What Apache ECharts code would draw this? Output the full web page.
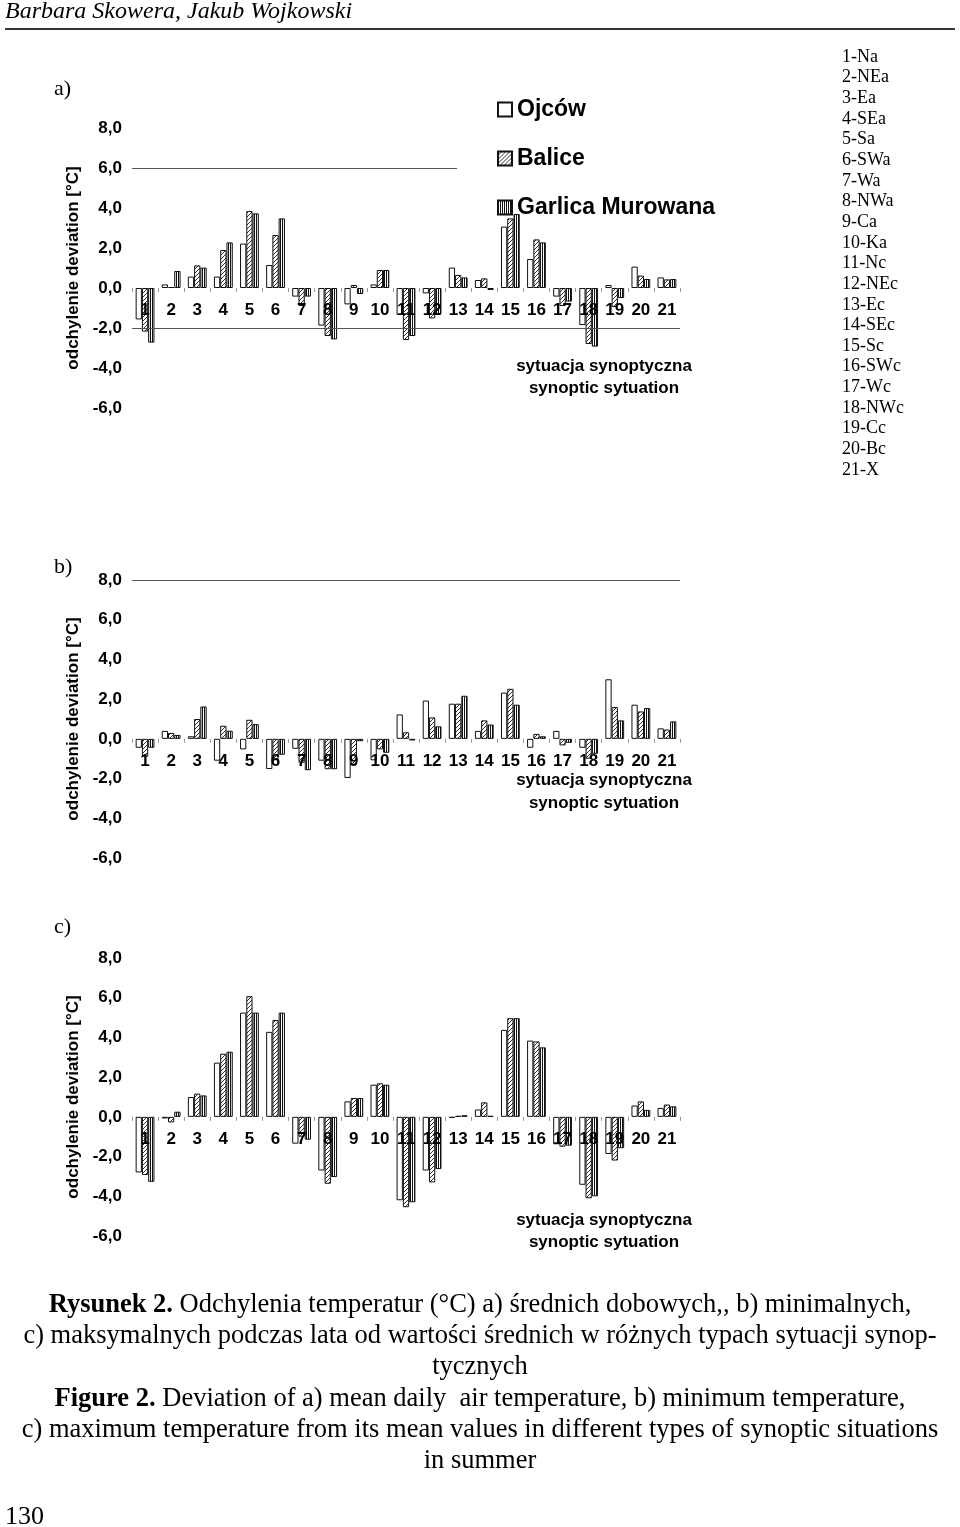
<!DOCTYPE html>
<html><head><meta charset="utf-8">
<script src="https://cdn.jsdelivr.net/npm/echarts@6/dist/echarts.min.js"></script>
<style>html,body{margin:0;padding:0;background:#fff}#c{width:960px;height:1527px}</style>
</head><body><div id="c"></div><script>
// ---------- data ----------
const categories = ['1','2','3','4','5','6','7','8','9','10','11','12','13','14','15','16','17','18','19','20','21'];
const stations = ['Ojców','Balice','Garlica Murowana'];
const typeList = ['1-Na','2-NEa','3-Ea','4-SEa','5-Sa','6-SWa','7-Wa','8-NWa','9-Ca','10-Ka','11-Nc','12-NEc','13-Ec','14-SEc','15-Sc','16-SWc','17-Wc','18-NWc','19-Cc','20-Bc','21-X'];
// a) mean daily
const a_ojcow   = [-1.57, 0.18, 0.57, 0.57, 2.22, 1.15, -0.43, -1.88, -0.82, 0.18, -1.35, -0.27, 1.02, 0.40, 3.07, 1.45, -0.43, -1.85, 0.15, 1.07, 0.53];
const a_balice  = [-2.18, 0.05, 1.13, 1.90, 3.85, 2.65, -0.90, -2.40, 0.15, 0.90, -2.60, -1.52, 0.65, 0.48, 3.48, 2.43, -0.90, -2.80, -0.95, 0.62, 0.43];
const a_garlica = [-2.73, 0.85, 1.02, 2.28, 3.73, 3.48, -0.43, -2.57, -0.30, 0.90, -2.40, -1.30, 0.53, -0.10, 3.70, 2.28, -0.68, -2.93, -0.50, 0.45, 0.45];
// b) minimum
const b_ojcow   = [-0.45, 0.40, 0.13, -1.10, -0.53, -1.52, -0.50, -1.10, -1.97, -1.08, 1.23, 1.93, 1.77, 0.40, 2.33, -0.45, 0.40, -0.45, 3.00, 1.72, 0.53];
const b_balice  = [-0.90, 0.30, 1.00, 0.66, 0.96, -1.03, -1.20, -1.53, -1.30, -0.53, 0.33, 1.08, 1.77, 0.93, 2.52, 0.25, -0.33, -1.00, 1.60, 1.38, 0.47];
const b_garlica = [-0.45, 0.20, 1.63, 0.41, 0.74, -0.80, -1.58, -1.53, -0.12, -0.70, -0.08, 0.63, 2.17, 0.72, 1.72, 0.13, -0.20, -0.75, 0.93, 1.55, 0.88];
// c) maximum
const c_ojcow   = [-2.80, -0.08, 1.00, 2.73, 5.25, 4.28, -1.35, -2.70, 0.78, 1.62, -4.20, -2.70, -0.05, 0.37, 4.38, 3.84, -1.38, -3.42, -1.87, 0.57, 0.45];
const c_balice  = [-2.93, -0.28, 1.17, 3.18, 6.08, 4.88, -1.00, -3.37, 0.95, 1.69, -4.55, -3.30, 0.05, 0.73, 4.97, 3.80, -1.50, -4.10, -2.20, 0.78, 0.62];
const c_garlica = [-3.27, 0.26, 1.08, 3.28, 5.25, 5.25, -1.15, -3.03, 0.95, 1.62, -4.30, -2.63, 0.08, 0.05, 4.97, 3.50, -1.45, -4.00, -1.58, 0.35, 0.53];
const panels = [
  {label:'a)', data:[a_ojcow, a_balice, a_garlica], lines:[6, -2]},
  {label:'b)', data:[b_ojcow, b_balice, b_garlica], lines:[8]},
  {label:'c)', data:[c_ojcow, c_balice, c_garlica], lines:[]}
];
const yMin = -6, yMax = 8, yStep = 2;

// ---------- patterns ----------
function hatchCanvas(){
  const c=document.createElement('canvas'); c.width=4; c.height=4;
  const g=c.getContext('2d'); g.fillStyle='#fff'; g.fillRect(0,0,4,4);
  g.strokeStyle='#333'; g.lineWidth=1; g.beginPath();
  g.moveTo(0,4); g.lineTo(4,0); g.moveTo(-1,1); g.lineTo(1,-1); g.moveTo(3,5); g.lineTo(5,3);
  g.stroke(); return c;
}
function stripeCanvas(){
  const c=document.createElement('canvas'); c.width=2; c.height=2;
  const g=c.getContext('2d'); g.fillStyle='#fff'; g.fillRect(0,0,2,2);
  g.fillStyle='#111'; g.fillRect(0,0,1,2); return c;
}
const fills = ['#ffffff', {image: hatchCanvas(), repeat:'repeat'}, {image: stripeCanvas(), repeat:'repeat'}];

const SANS = '"Liberation Sans", Arial, sans-serif';
const SERIF = '"Liberation Serif", "Times New Roman", serif';

const gridTops = [128, 580, 958];
const gridHeights = [280, 278, 278];
const grids = [], xAxes = [], yAxes = [], series = [];
panels.forEach((p, i) => {
  const h = gridHeights[i];
  grids.push({left:132, top:gridTops[i], width:548, height:h, containLabel:false});
  xAxes.push({type:'category', gridIndex:i, data:categories, z:10,
    offset: -h * (0 - yMin) / (yMax - yMin),
    axisLine:{show:false, onZero:false},
    axisTick:{show:true, length:4, lineStyle:{color:'#999'}},
    axisLabel:{interval:0, margin:14, color:'#000', fontWeight:'bold', fontSize:17, fontFamily:SANS}});
  yAxes.push({type:'value', gridIndex:i, min:yMin, max:yMax, interval:yStep,
    axisLine:{show:false}, axisTick:{show:false}, splitLine:{show:false},
    axisLabel:{margin:10, color:'#000', fontWeight:'bold', fontSize:17, fontFamily:SANS,
      formatter: v => v.toFixed(1).replace('.', ',')},
    name:'odchylenie deviation [°C]', nameLocation:'middle', nameGap:45,
    nameTextStyle:{color:'#000', fontWeight:'bold', fontSize:17, fontFamily:SANS}});
  p.data.forEach((arr, k) => {
    const s = {type:'bar', name:stations[k], xAxisIndex:i, yAxisIndex:i, data:arr,
      barGap:'0%', barCategoryGap:'28%',
      itemStyle:{color:fills[k], borderColor:'#111', borderWidth:1}};
    if (k === 0 && p.lines.length) {
      s.markLine = {silent:true, symbol:'none', label:{show:false},
        lineStyle:{color:'#555', width:1, type:'solid'},
        data: p.lines.map(v => ({yAxis:v}))};
    }
    series.push(s);
  });
});

const graphic = [];
// white mask: the upper frame line of panel a) is hidden behind the legend area
graphic.push({type:'rect', z:50, shape:{x:457, y:163, width:227, height:8}, style:{fill:'#fff'}});
function txt(text, x, y, font, align, extra){
  graphic.push({type:'text', z:100, style:Object.assign({text, x, y, font, fill:'#000',
    textAlign:align||'left', textVerticalAlign:'middle'}, extra||{})});
}
txt('Barbara Skowera, Jakub Wojkowski', 5, 12, 'italic 24px ' + SERIF);
graphic.push({type:'line', shape:{x1:5, y1:29, x2:955, y2:29}, style:{stroke:'#333', lineWidth:2}});
[89, 567, 927].forEach((y, i) => txt(panels[i].label, 54, y, '22px ' + SERIF));
typeList.forEach((t, i) => txt(t, 842, 57 + i*20.65, '18px ' + SERIF));
const axisTitleY = [[366, 388], [780, 803], [1220, 1242]];
axisTitleY.forEach(([y1, y2]) => {
  txt('sytuacja synoptyczna', 604, y1, 'bold 17px ' + SANS, 'center');
  txt('synoptic sytuation', 604, y2, 'bold 17px ' + SANS, 'center');
});
const CF = 26.5;
const rich = {b:{fontWeight:'bold', fontSize:CF, fontFamily:SERIF, fill:'#000'}, n:{fontSize:CF, fontFamily:SERIF, fill:'#000'}};
const capFont = CF + 'px ' + SERIF;
txt('{b|Rysunek 2.}{n| Odchylenia temperatur (°C) a) średnich dobowych,, b) minimalnych,}', 480, 1305, capFont, 'center', {rich});
txt('c) maksymalnych podczas lata od wartości średnich w różnych typach sytuacji synop-', 480, 1336, capFont, 'center');
txt('tycznych', 480, 1367, capFont, 'center');
txt('{b|Figure 2.}{n| Deviation of a) mean daily  air temperature, b) minimum temperature,}', 480, 1399, capFont, 'center', {rich});
txt('c) maximum temperature from its mean values in different types of synoptic situations', 480, 1430, capFont, 'center');
txt('in summer', 480, 1461, capFont, 'center');
txt('130', 5, 1517, '26px ' + SERIF);

const chart = echarts.init(document.getElementById('c'), null, {renderer:'canvas'});
chart.setOption({
  animation:false,
  backgroundColor:'#fff',
  grid:grids, xAxis:xAxes, yAxis:yAxes, series,
  legend:{data:stations, orient:'vertical', left:497, top:98, padding:0, zlevel:1, z:10,
    icon:'rect', itemWidth:14, itemHeight:14, itemGap:26, selectedMode:false,
    textStyle:{color:'#000', fontWeight:'bold', fontSize:23, fontFamily:SANS}},
  graphic
});
</script></body></html>
